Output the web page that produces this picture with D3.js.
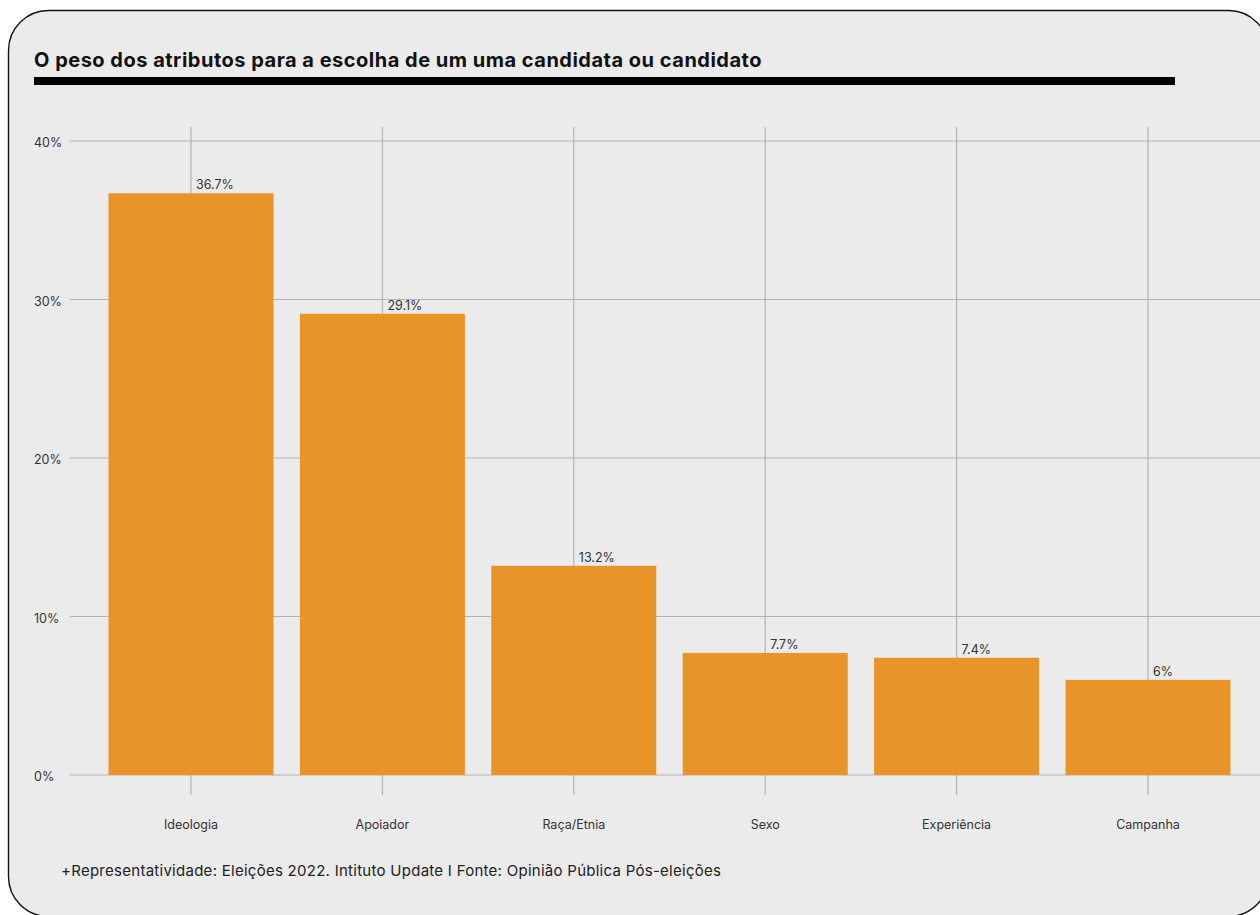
<!DOCTYPE html>
<html lang="pt">
<head>
<meta charset="utf-8">
<script src="https://cdn.jsdelivr.net/npm/d3@7"></script>
<style>
  html, body { margin: 0; padding: 0; background: #ffffff; }
  svg { display: block; }
  text { font-family: Inter, "Noto Sans", sans-serif; }
</style>
</head>
<body>
<svg id="chart" width="1260" height="915"></svg>
<script>
// Atributos e percentuais
const categories = ["Ideologia", "Apoiador", "Raça/Etnia", "Sexo", "Experiência", "Campanha"];
const values = [36.7, 29.1, 13.2, 7.7, 7.4, 6];
const valueLabels = ["36.7%", "29.1%", "13.2%", "7.7%", "7.4%", "6%"];
const yTicks = [0, 10, 20, 30, 40];
const yTickLabels = ["0%", "10%", "20%", "30%", "40%"];

const title = "O peso dos atributos para a escolha de um uma candidata ou candidato";
const footer = "+Representatividade: Eleições 2022. Intituto Update I Fonte: Opinião Pública Pós-eleições";

const svg = d3.select("#chart");

// Card background with rounded border
svg.append("rect")
  .attr("x", 8.5).attr("y", 10.5)
  .attr("width", 1260).attr("height", 906)
  .attr("rx", 40).attr("ry", 40)
  .attr("fill", "#ebebeb")
  .attr("stroke", "#111")
  .attr("stroke-width", 1.4);

// Title and rule
svg.append("text")
  .attr("x", 34).attr("y", 67)
  .attr("font-size", 20).attr("font-weight", 700)
  .attr("letter-spacing", 0.5)
  .attr("fill", "#111")
  .text(title);

svg.append("rect")
  .attr("x", 34).attr("y", 77)
  .attr("width", 1141).attr("height", 8)
  .attr("fill", "#000");

// Scales
const x = d3.scalePoint().domain(categories).range([191, 1148]);
const barW = x.step() * 0.862;
const y = d3.scaleLinear().domain([0, 40]).range([775, 141]);

const grid = svg.append("g").attr("stroke", "#b3b3b3").attr("stroke-width", 1.2);

// Horizontal grid lines
grid.selectAll("line.h").data(yTicks).join("line")
  .attr("class", "h")
  .attr("x1", 70).attr("x2", 1260)
  .attr("y1", d => y(d)).attr("y2", d => y(d));

// Vertical grid lines through each category (extending below as ticks)
grid.selectAll("line.v").data(categories).join("line")
  .attr("class", "v")
  .attr("x1", d => x(d)).attr("x2", d => x(d))
  .attr("y1", 127).attr("y2", 795);

// Y tick labels
svg.append("g").selectAll("text").data(yTicks).join("text")
  .attr("x", 34).attr("y", d => y(d) + 3)
  .attr("dominant-baseline", "middle")
  .attr("font-size", 12.5).attr("fill", "#333")
  .text((d, i) => yTickLabels[i]);

// Bars
svg.append("g").selectAll("rect").data(values).join("rect")
  .attr("x", (d, i) => x(categories[i]) - barW / 2)
  .attr("width", barW)
  .attr("y", d => y(d))
  .attr("height", d => y(0) - y(d))
  .attr("fill", "#e89428");

// Value labels
svg.append("g").selectAll("text").data(values).join("text")
  .attr("x", (d, i) => x(categories[i]) + 5)
  .attr("y", d => y(d) - 4)
  .attr("font-size", 12.5).attr("fill", "#333")
  .text((d, i) => valueLabels[i]);

// Category labels
svg.append("g").selectAll("text").data(categories).join("text")
  .attr("x", d => x(d)).attr("y", 826)
  .attr("text-anchor", "middle").attr("dominant-baseline", "middle")
  .attr("font-size", 12.5).attr("fill", "#333")
  .text(d => d);

// Footer
svg.append("text")
  .attr("x", 61).attr("y", 872)
  .attr("dominant-baseline", "middle")
  .attr("font-size", 15).attr("letter-spacing", 0.27)
  .attr("fill", "#222")
  .text(footer);
</script>
</body>
</html>
